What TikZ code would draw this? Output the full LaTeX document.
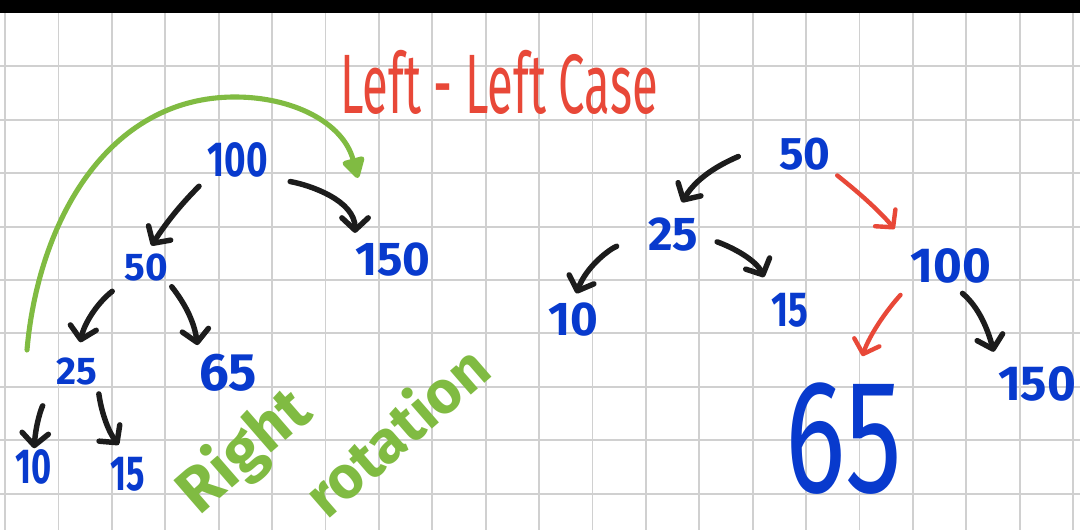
\documentclass[tikz,border=0pt]{standalone}
\usepackage{fontspec}
\setmainfont{Fira Sans}
\usetikzlibrary{arrows.meta, positioning}

\definecolor{inkblue}{RGB}{8,58,205}
\definecolor{inkred}{RGB}{232,72,56}
\definecolor{inkgreen}{RGB}{128,187,66}
\definecolor{inkblack}{RGB}{28,28,28}
\definecolor{gridgray}{RGB}{208,208,208}

\newcommand{\numfont}[1]{\fontsize{#1}{#1}\selectfont\bfseries}

\begin{document}
\begin{tikzpicture}[
    x=0.02cm, y=0.02cm,
    gridline/.style={draw=gridgray, line width=1.1pt},
    num/.style={text=inkblue, inner sep=0pt},
    edge/.style={-{Straight Barb[round, length=7pt, width=15pt]}, line width=3.1pt,
                 draw=inkblack, line cap=round},
    rededge/.style={edge, draw=inkred, line width=2.5pt},
    swing/.style={-{Triangle[round, length=13pt, width=14pt]}, line width=2.9pt,
                  draw=inkgreen, line cap=round},
    casetitle/.style={text=inkred, inner sep=0pt, font=\fontsize{48}{48}\selectfont},
    rotnote/.style={text=inkgreen, inner sep=0pt, rotate=41, font=\numfont{34}}
]
\useasboundingbox (0,0) rectangle (1080,530);

% squared paper
\fill[white] (0,0) rectangle (1080,530);
\foreach \gx in {0,...,20}
    \draw[gridline] ({5.1+53.4*\gx},0) -- ({5.1+53.4*\gx},517);
\foreach \gy in {1,...,9}
    \draw[gridline] (0,{517-53.4*\gy}) -- (1080,{517-53.4*\gy});
\fill[black] (0,517) rectangle (1080,530);

\node[casetitle, anchor=base west] (caseLabel) at (340,416) {\scalebox{0.56}[1]{Left - Left Case}};

% unbalanced tree
\node[num, font=\numfont{28}] (a100) at (238,370) {\scalebox{0.75}[1]{100}};
\node[num, font=\numfont{22}] (a50) at (146,262) {50};
\node[num, font=\numfont{27}] (a150) at (393,270) {150};
\node[num, font=\numfont{22}] (a25) at (77,158) {25};
\node[num, font=\numfont{30}] (a65) at (228,157) {65};
\node[num, font=\numfont{28}] (a10) at (34,63) {\scalebox{0.7}[1]{10}};
\node[num, font=\numfont{28}] (a15) at (128,56) {\scalebox{0.7}[1]{15}};

\draw[edge, shorten <=0.24cm, shorten >=0.2cm] (a100.south west) to[bend right=6] (a50.north);
\draw[edge, shorten <=0.44cm, shorten >=0.2cm] (a100.south east) to[out=-10, in=90] (a150.north west);
\draw[edge, shorten <=0.3cm, shorten >=0.32cm] (a50.south west) to[bend right=20] (a25.north);
\draw[edge, shorten <=0.12cm, shorten >=0.18cm] (a50.south east) to[bend left=15] (a65.north west);
\draw[edge, shorten <=0.48cm, shorten >=0.02cm] (a25.south west) to[bend right=15] (a10.north);
\draw[edge, shorten <=0.16cm, shorten >=0.3cm] (a25.south east) to[bend right=15] (a15.north);

\coordinate (swingfrom) at (27,180);
\coordinate (swingtop) at (235,433);
\coordinate (swingto) at (358,352);
\draw[swing] (swingfrom) to[out=85, in=180] (swingtop) to[out=0, in=105] (swingto);

\node[rotnote, font=\numfont{36}] (rightWord) at (245,78) {Right};
\node[rotnote] (rotationWord) at (395,100) {rotation};

% after the right rotation
\node[num, font=\numfont{26}] (b50) at (805,376) {50};
\node[num, font=\numfont{27}] (b25) at (673,295) {25};
\node[num, font=\numfont{28}] (b100) at (951,264) {100};
\node[num, font=\numfont{27}] (b10) at (573,210) {10};
\node[num, font=\numfont{28}] (b15) at (790,220) {\scalebox{0.75}[1]{15}};
\node[num, font=\fontsize{92}{92}\selectfont] (b65) at (844,91) {\scalebox{0.7}[1]{65}};
\node[num, font=\numfont{28}] (b150) at (1037,146) {150};

\draw[edge, shorten <=0.9cm, shorten >=0.36cm] (b50.north west) to[out=-155, in=60] (b25.north);
\draw[rededge, shorten <=0.16cm, shorten >=0.5cm] (b50.south east) to[bend left=6] (b100.north west);
\draw[edge, shorten <=0.66cm, shorten >=0.2cm] (b25.west) to[out=-160, in=70] (b10.north);
\draw[edge, shorten <=0.4cm, shorten >=0.34cm] (b25.east) to[out=-20, in=115] (b15.north west);
\draw[rededge, shorten <=0.3cm, shorten >=0.56cm] (b100.south west) to[bend right=12] (b65.80);
\draw[edge, shorten <=0.3cm, shorten >=0.3cm] (b100.south) to[out=-40, in=105] (b150.north west);

\end{tikzpicture}
\end{document}
